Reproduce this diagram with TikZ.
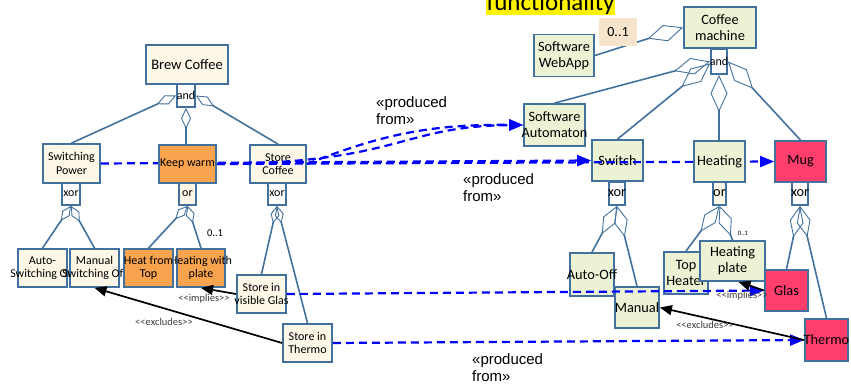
\documentclass[tikz,border=0pt]{standalone}
\usepackage{fontspec}
\setmainfont{Carlito}
\newfontfamily\labelsans{Liberation Sans}
\usetikzlibrary{arrows.meta}
\pgfdeclarelayer{front}
\pgfsetlayers{main,front}

\definecolor{bordc}{RGB}{65,113,156}
\definecolor{creamc}{RGB}{253,247,231}
\definecolor{greenc}{RGB}{235,243,212}
\definecolor{orangec}{RGB}{248,163,78}
\definecolor{pinkc}{RGB}{255,62,110}
\definecolor{beigec}{RGB}{246,229,204}
\definecolor{lblgray}{RGB}{60,60,60}

% zero-width centred line, so long labels spill over their boxes
\newcommand\zw[1]{\makebox[0pt]{#1}}

\tikzset{
  fbox/.style={draw=bordc, line width=1.8pt, inner sep=0pt, align=center},
  creambox/.style={fbox, fill=creamc},
  greenbox/.style={fbox, fill=greenc},
  orangebox/.style={fbox, fill=orangec},
  pinkbox/.style={fbox, fill=pinkc},
  gatebox/.style={fbox, fill=white},
  wh/.style 2 args={minimum width=#1pt, minimum height=#2pt},
  smallf/.style={font=\fontsize{12}{13.5}\selectfont},
  bigf/.style={font=\fontsize{14.3}{15.8}\selectfont},
  agg/.style 2 args={draw=bordc, line width=1.6pt,
    {Diamond[open, line width'=0.9pt, length=#1pt, width=#2pt]}-},
  aggl/.style={agg={21}{10}},
  aggs/.style={agg={18}{9}},
  aggb/.style={agg={37}{17}},
  aggr/.style={agg={32}{14}},
  prod/.style={draw=blue, line width=2.2pt, dash pattern=on 8pt off 5pt,
    -{Triangle[length=14pt, width=11pt]}},
  rel/.style={draw=black, line width=1.7pt, -{Triangle[length=12pt, width=10pt]}},
  prodlbl/.style={font=\labelsans\fontsize{15}{17}\selectfont, align=left,
    inner sep=0pt, anchor=north west},
  rellbl/.style={font=\fontsize{10.5}{12}\selectfont, text=lblgray, inner sep=0pt},
}

\begin{document}
\begin{tikzpicture}[x=1pt, y=-1pt]
\useasboundingbox (0,0) rectangle (851,388);

% heading
\node[fill=yellow, inner xsep=0.5pt, inner ysep=0pt, anchor=base west,
      font=\fontsize{25}{28}\selectfont] (title) at (486,10.5) {functionality};

% ---------- left feature tree ----------
\node[creambox, wh={82}{39}, font=\fontsize{14.5}{16}\selectfont] (bc) at (187,64.5) {Brew Coffee};
\node[gatebox, wh={18}{23}, smallf] (band) at (186,95.5) {\zw{and}};
\node[creambox, wh={57}{39}, smallf] (sp) at (71.5,163.5) {\zw{Switching}\\\zw{Power}};
\node[creambox, wh={56}{38}, smallf] (sc) at (278,164) {\zw{Store}\\\zw{Coffee}};
\node[gatebox, wh={18}{22}, smallf] (x1) at (71,194) {\zw{xor}};
\node[creambox, wh={17}{22}, smallf] (o1) at (187.5,194) {\zw{or}};
\node[gatebox, wh={18}{22}, smallf] (x3) at (277,194) {\zw{xor}};
\node[creambox, wh={49}{38}, smallf] (asw) at (42.5,268) {\zw{Auto-}\\\zw{Switching Off}};
\node[creambox, wh={49}{38}, smallf] (msw) at (94.5,268) {\zw{Manual}\\\zw{Switching Off}};
\node[orangebox, wh={48}{38}, smallf] (hwp) at (201,268) {\zw{Heating with}\\\zw{plate}};
\node[orangebox, wh={49}{38}, smallf] (hft) at (148.5,268) {\zw{Heat from}\\\zw{Top}};
\node[creambox, wh={49}{38}, smallf] (svg) at (261.5,294) {\zw{Store in}\\\zw{visible Glas}};
\node[creambox, wh={49}{38}, smallf] (sit) at (307.5,343) {\zw{Store in}\\\zw{Thermo}};

% ---------- right feature tree ----------
\node[greenbox, wh={72}{41}, bigf] (cm) at (720,27.5) {\zw{Coffee}\\\zw{machine}};
\node[gatebox, wh={16}{25}, smallf] (ma) at (719,61.5) {\zw{and}};
\node[greenbox, wh={60}{42}, bigf] (swa) at (564,55.5) {\zw{Software}\\\zw{WebApp}};
\node[greenbox, wh={61}{42}, bigf] (sa) at (554.5,125) {\zw{Software}\\\zw{Automaton}};
\node[greenbox, wh={51}{41}, bigf] (swt) at (617.5,160.5) {\zw{Switch}};
\node[pinkbox, wh={51}{41}, bigf] (mug) at (800.5,161.5) {\zw{Mug}};
\node[gatebox, wh={16}{23}, bigf] (xs) at (617,193.5) {\zw{xor}};
\node[creambox, wh={13}{23}, bigf] (ro) at (719.5,193.5) {\zw{or}};
\node[gatebox, wh={16}{23}, bigf] (mx) at (800,193.5) {\zw{xor}};
\node[greenbox, wh={44}{43}, bigf] (ao) at (592,274.5) {\zw{Auto-Off}};
\node[greenbox, wh={44}{41}, bigf] (man) at (637,307.5) {\zw{Manual}};
\node[greenbox, wh={44}{42}, bigf] (th) at (686,273) {\zw{Top}\\\zw{Heater}};
\node[greenbox, wh={65}{40}, bigf] (hp) at (732.5,261) {\zw{Heating}\\\zw{plate}};
\node[pinkbox, wh={43}{41}, bigf] (gl) at (786.5,290.5) {\zw{Glas}};
\node[pinkbox, wh={43}{42}, bigf] (tm) at (826.5,340) {\zw{Thermo}};

% boxes that sit above the dashed links
\begin{pgfonlayer}{front}
\node[orangebox, wh={57}{38}, smallf] (kw) at (187.5,164) {\zw{Keep warm}};
\node[greenbox, wh={51}{41}, bigf] (ht) at (719.5,161.5) {\zw{Heating}};
\end{pgfonlayer}

% ---------- aggregation links ----------
\draw[aggl] (band.west) -- (sp.north);
\draw[aggl] (band.south) -- (band.south |- kw.north);
\draw[aggl] (band.east) -- (sc.north);
\draw[aggs] (x1.south) -- (asw.north);
\draw[aggs] (x1.south) -- (msw.north);
\draw[aggs] (o1.south) -- (hft.north);
\draw[aggs] (o1.south) -- (hwp.north);
\draw[aggs] (x3.south) -- (svg.north);
\draw[aggs] (x3.south) -- (sit.north);

\draw[aggb] (cm.west) -- (swa.east);
\draw[aggb] (ma.west) -- (sa.north);
\draw[aggb] ([yshift=-2pt]ma.west) -- (swt.north);
\draw[aggb] (ma.south) -- (ma.south |- ht.north);
\draw[aggb] (ma.east) -- (mug.north);
\draw[aggr] (xs.south) -- (ao.north);
\draw[aggr] (xs.south) -- (man.north);
\draw[aggr] (ro.south) -- (th.north);
\draw[aggr] (ro.south) -- (hp.north);
\draw[aggr] (mx.south) -- (gl.north);
\draw[aggr] (mx.south) -- (tm.north);

% multiplicity tag on the web app link
\node[fill=beigec, wh={38}{28}, inner sep=0pt, font=\fontsize{14}{16}\selectfont] (m3) at (618,32) {0..1};

% ---------- produced-from links ----------
\draw[prod] (sp.east) -- (swt.west);
\draw[prod] (kw.east) -- (mug.west);
\draw[prod] (kw.east) .. controls (400,163) and (400,126) .. (sa.west);
\draw[prod] (sc.east) .. controls (380,135) and (430,124) .. (sa.west);
\draw[prod] (svg.east) -- (gl.west);
\draw[prod] (sit.east) -- (tm.west);

% ---------- constraints ----------
\draw[rel] (svg.west) -- (hwp.south);
\draw[rel] (sit.west) -- (msw.south);
\draw[rel] (gl.west) -- ([xshift=6pt]hp.south);
\draw[rel] (tm.west) -- (man.east);

% ---------- labels ----------
\node[prodlbl] (pf1) at (376,96) {«produced\\from»};
\node[prodlbl] (pf2) at (463,173) {«produced\\from»};
\node[prodlbl] (pf3) at (472,353) {«produced\\from»};
\node[rellbl] (im1) at (204,299) {<{}<implies>{}>};
\node[rellbl] (im2) at (742,296) {<{}<implies>{}>};
\node[rellbl] (ex1) at (164,322) {<{}<excludes>{}>};
\node[rellbl] (ex2) at (705,325) {<{}<excludes>{}>};
\node[inner sep=0pt, font=\fontsize{10.5}{12}\selectfont] (m1) at (215,233) {0..1};
\node[inner sep=0pt, font=\fontsize{6.6}{8}\selectfont] (m2) at (743,233) {0..1};
\end{tikzpicture}
\end{document}
